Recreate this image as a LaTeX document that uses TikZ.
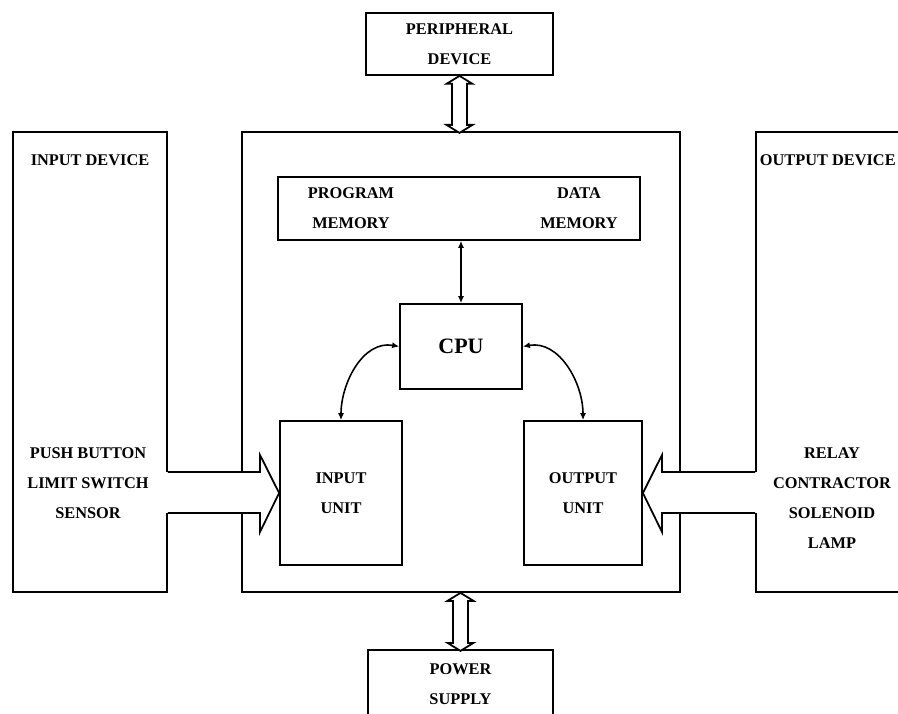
\documentclass[tikz,border=0pt]{standalone}
\usepackage{fontspec}
\setmainfont{Liberation Serif}
\usetikzlibrary{arrows.meta,positioning}

\tikzset{
  box/.style={draw, line width=1pt, rectangle, inner sep=0pt},
  lbl/.style={font=\bfseries\fontsize{9.3}{17}\selectfont, align=center, inner sep=0pt},
  link/.style={line width=0.9pt, {Latex[length=4pt,width=3.5pt]}-{Latex[length=4pt,width=3.5pt]}},
  outline/.style={line width=1pt},
}

\begin{document}
\begin{tikzpicture}
\useasboundingbox (0,0) rectangle (17.96,14.26);
\clip (0,0) rectangle (17.96,14.26);

% Big boxes
\node[box, minimum width=3.08cm, minimum height=9.2cm] (indev) at (1.8,7.02) {};
\node[box, minimum width=8.76cm, minimum height=9.2cm] (plc) at (9.22,7.02) {};
\node[box, minimum width=3.4cm, minimum height=9.2cm] (outdev) at (16.82,7.02) {};
\node[box, lbl, minimum width=3.74cm, minimum height=1.24cm] (periph) at (9.19,13.38) {PERIPHERAL\\DEVICE};
\node[box, lbl, minimum width=3.7cm, minimum height=1.36cm] (power) at (9.21,0.58) {POWER\\SUPPLY};

% Inside the controller
\node[box, minimum width=7.24cm, minimum height=1.26cm] (mem) at (9.18,10.09) {};
\node[lbl] (prog) at (7.02,10.09) {PROGRAM\\MEMORY};
\node[lbl] (data) at (11.58,10.09) {DATA\\MEMORY};
\node[box, minimum width=2.44cm, minimum height=1.7cm, font=\bfseries\fontsize{12.5}{15}\selectfont] (cpu) at (9.22,7.33) {CPU};
\node[box, lbl, minimum width=2.44cm, minimum height=2.88cm] (inunit) at (6.82,4.4) {INPUT\\UNIT};
\node[box, lbl, minimum width=2.36cm, minimum height=2.88cm] (outunit) at (11.66,4.4) {OUTPUT\\UNIT};

% Device labels
\node[lbl] (intitle) at (1.8,11.06) {INPUT DEVICE};
\node[lbl] (inlist) at (1.76,4.6) {PUSH BUTTON\\LIMIT SWITCH\\SENSOR};
\node[lbl, anchor=east] (outtitle) at (17.92,11.06) {OUTPUT DEVICE};
\node[lbl] (outlist) at (16.64,4.3) {RELAY\\CONTRACTOR\\SOLENOID\\LAMP};

% Input shaft
\fill[white] (3.3,4.0) rectangle (5.2,4.82);
\draw[outline] (indev.east |- 0,4.82) -- (5.2,4.82) -- (5.2,5.16) -- (inunit.west)
  -- (5.2,3.62) -- (5.2,4.0) -- (indev.east |- 0,4.0);

% Output shaft
\fill[white] (13.24,4.0) rectangle (15.16,4.82);
\draw[outline] (outdev.west |- 0,4.82) -- (13.24,4.82) -- (13.24,5.16) -- (outunit.east)
  -- (13.24,3.62) -- (13.24,4.0) -- (outdev.west |- 0,4.0);

% Hollow double arrows
\draw[outline, fill=white] (periph.south) -- ++(-0.26,-0.16) -- ++(0.11,0) -- ++(0,-0.82)
  -- ++(-0.11,0) -- ++(0.26,-0.16) -- ++(0.26,0.16) -- ++(-0.11,0) -- ++(0,0.82)
  -- ++(0.11,0) -- cycle;
\draw[outline, fill=white] (plc.south -| power.north) -- ++(-0.26,-0.16) -- ++(0.11,0) -- ++(0,-0.84)
  -- ++(-0.11,0) -- ++(0.26,-0.16) -- ++(0.26,0.16) -- ++(-0.11,0) -- ++(0,0.84)
  -- ++(0.11,0) -- cycle;

% Links
\draw[link] (mem.south -| cpu.north) -- (cpu.north);
\draw[link] (cpu.west) to[out=170,in=90] (inunit.north);
\draw[link] (cpu.east) to[out=10,in=90] (outunit.north);
\end{tikzpicture}
\end{document}
